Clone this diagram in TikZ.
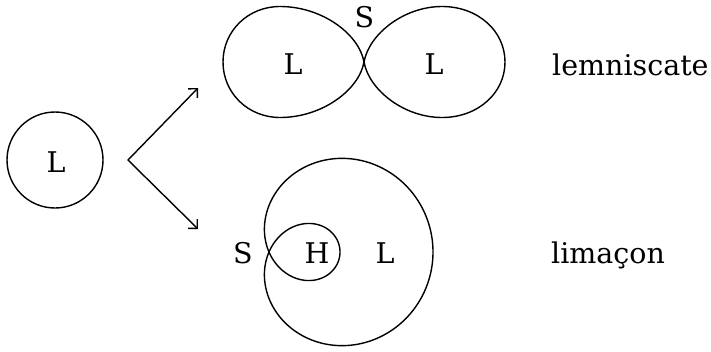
\documentclass[tikz,border=0pt]{standalone}
\usepackage{fontspec}
\setmainfont{DejaVu Serif}
\usetikzlibrary{arrows.meta}
\begin{document}
\begin{tikzpicture}[x=1pt,y=-1pt,
  curve/.style={line width=1.4pt, line join=round},
  lbl/.style={inner sep=0pt, font=\fontsize{28.5}{31}\selectfont},
  arr/.style={line width=1.4pt, line join=miter,
    {Straight Barb[length=6.5pt,width=13pt,line join=miter]}-{Straight Barb[length=6.5pt,width=13pt,line join=miter]}},
  declare function={lim(\t)=46.5+117.5*cos(\t);}]
\useasboundingbox (0,0) rectangle (711,351);
% left circle
\node[draw, circle, line width=1.4pt, minimum size=96pt, inner sep=0pt] (c0) at (55,160) {};
\node[lbl] (l0) at (56,162) {L};
% branching arrows
\coordinate (v) at (128,160);
\coordinate (t1) at (198,88);
\coordinate (t2) at (198,229);
\draw[arr] (t1) -- (v) -- (t2);
% lemniscate
\coordinate (ln) at (364,62);
\begin{scope}[shift={(ln)}]
\draw[curve] (0,0) .. controls (-5,-28) and (-42,-55.5) .. (-84,-55.5)
  .. controls (-116,-55.5) and (-141,-31) .. (-141,0)
  .. controls (-141,31) and (-116,55.5) .. (-84,55.5)
  .. controls (-42,55.5) and (-5,28) .. (0,0);
\draw[curve] (0,0) .. controls (5,-28) and (40,-55.5) .. (78,-55.5)
  .. controls (114,-55.5) and (141,-31) .. (141,0)
  .. controls (141,31) and (114,55.5) .. (78,55.5)
  .. controls (40,55.5) and (5,28) .. (0,0);
\end{scope}
\node[lbl] (l1) at (293,64.5) {L};
\node[lbl] (l2) at (434,64.5) {L};
\node[lbl] (s1) at (364.5,17) {S};
\node[lbl, anchor=base west] (lemn) at (552,75) {lemniscate};
% limacon
\coordinate (pn) at (269,252);
\draw[curve] plot[domain=0:360, samples=361, variable=\t]
  ({269+lim(\t)*cos(\t)}, {252+lim(\t)*sin(\t)});
\node[lbl] (s2) at (243,253) {S};
\node[lbl] (h1) at (317,253.5) {H};
\node[lbl] (l3) at (385,253.5) {L};
\node[lbl, anchor=base west] (lima) at (551,263) {limaçon};
\end{tikzpicture}
\end{document}
